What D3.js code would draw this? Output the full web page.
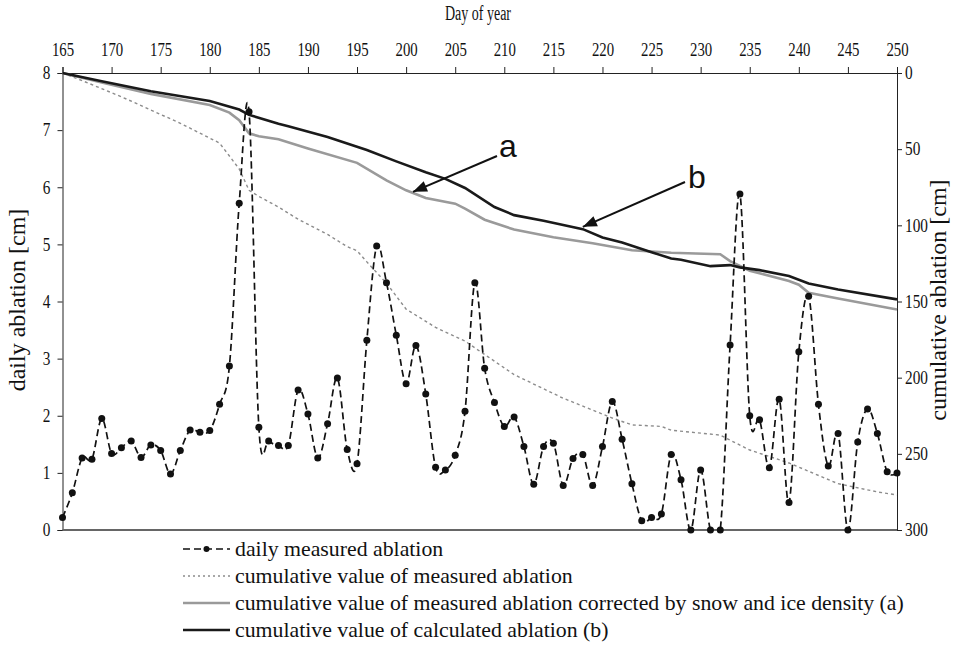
<!DOCTYPE html>
<html>
<head>
<meta charset="utf-8">
<script src="https://cdn.jsdelivr.net/npm/d3@7"></script>
<style>
  html, body { margin: 0; padding: 0; background: #fff; }
  svg { display: block; }
  svg text { font-family: "Liberation Serif", "DejaVu Serif", "Times New Roman", serif; }
  svg text.sans { font-family: "Liberation Sans", Arial, sans-serif; }
</style>
</head>
<body>
<svg id="chart" width="956" height="654"></svg>
<script>
// Day numbers of the daily measurements
const days = [165,166,167,168,169,170,171,172,173,174,175,176,177,178,179,180,181,182,183,184,
  185,186,187,188,189,190,191,192,193,194,195,196,197,198,199,200,201,202,203,204,
  205,206,207,208,209,210,211,212,213,214,215,216,217,218,219,220,221,222,223,224,
  225,226,227,228,229,230,231,232,233,234,235,236,237,238,239,240,241,242,243,244,
  245,246,247,248,249,250];

// Daily measured ablation [cm]
const dailyAblation = [0.22,0.65,1.26,1.24,1.95,1.34,1.44,1.56,1.27,1.49,1.39,0.98,1.39,1.75,1.71,1.74,2.20,2.87,5.72,7.32,
  1.80,1.56,1.48,1.48,2.45,2.03,1.26,1.86,2.66,1.41,1.16,3.32,4.97,4.33,3.41,2.56,3.23,2.38,1.10,1.05,
  1.31,2.08,4.33,2.83,2.23,1.81,1.98,1.46,0.80,1.46,1.52,0.78,1.25,1.32,0.78,1.46,2.25,1.59,0.81,0.16,
  0.22,0.28,1.32,0.88,0.00,1.05,0.00,0.00,3.24,5.88,2.00,1.93,1.09,2.29,0.48,3.12,4.09,2.20,1.12,1.69,
  0.00,1.54,2.12,1.69,1.02,1.00];

// Cumulative value of measured ablation [cm]
const cumMeasuredDays   = [165,167,171,177,181,183,184,185,187,189,192,194,195,196,198,200,203,206,211,216,221,223,226,227,232,233,235,239,244,248,250];
const cumMeasuredValues = [0,5,15.6,33,46,63,77,81,88,96,106,114,116.7,124,138,155,167,176,198,213.5,226.5,231,232,234.5,237.7,241,247.5,256,269.6,275,277];

// Cumulative measured ablation corrected by snow and ice density (a) [cm]
const cumCorrectedDays   = [165,169,174,180,182,183,184,185,187,190,195,198,200,202,205,206,208,211,215,219,223,227,232,233,235,239,240,241,244,250];
const cumCorrectedValues = [0,6.3,13.7,21,26,31,39.6,41.5,43.5,49.5,59,70.5,77,82,85.8,89,96.3,102.8,107.8,111.8,116.4,118,119,123.5,129.8,136.5,139,144.3,148,155.2];

// Cumulative calculated ablation (b) [cm]
const cumCalculatedDays   = [165,169,174,180,183,184,187,188,192,196,199,202,204,206,209,211,214,218,220,222,225,227,228,231,233,234,236,239,241,244,250];
const cumCalculatedValues = [0,5.4,12,18.4,24,27.5,33.3,35,42,50.6,58,65.2,69.5,75.5,88,93.3,97,102.5,108,111.3,117.6,121.8,122.6,126.8,126.1,127.6,129.4,133.3,138.2,142.1,148.6];

// Axis ticks
const dayTicks = [165,170,175,180,185,190,195,200,205,210,215,220,225,230,235,240,245,250];
const dailyTicks = [0,1,2,3,4,5,6,7,8];
const cumTicks = [0,50,100,150,200,250,300];

const legendLabels = [
  "daily measured ablation",
  "cumulative value of measured ablation",
  "cumulative value of measured ablation corrected by snow and ice density (a)",
  "cumulative value of calculated ablation (b)"
];

(function draw() {
  const svg = d3.select("#chart");
  const pl = 62.5, pr = 897, pt = 73, pb = 530;
  const serif = "Liberation Serif, DejaVu Serif, serif";

  // narrow a text run horizontally, keeping its glyph height
  function condense(sel, factor) {
    sel.each(function () {
      const w = this.getComputedTextLength();
      d3.select(this).attr("textLength", w * factor).attr("lengthAdjust", "spacingAndGlyphs");
    });
  }

  const x = d3.scaleLinear().domain([165, 250]).range([pl, pr]);
  const yL = d3.scaleLinear().domain([0, 8]).range([pb, pt]);
  const yR = d3.scaleLinear().domain([0, 300]).range([pt, pb]);

  // clip region for the smoothed daily curve
  svg.append("defs").append("clipPath").attr("id", "plotClip")
    .append("rect").attr("x", pl).attr("y", pt).attr("width", pr - pl).attr("height", pb - pt);

  // Axes
  const axTop = svg.append("g").attr("transform", `translate(0,${pt})`)
    .call(d3.axisTop(x).tickValues(dayTicks).tickSize(6).tickPadding(11).tickFormat(d3.format("d")));
  const axLeft = svg.append("g").attr("transform", `translate(${pl},0)`)
    .call(d3.axisLeft(yL).tickValues(dailyTicks).tickSize(5).tickPadding(7).tickFormat(d3.format("d")));
  const axRight = svg.append("g").attr("transform", `translate(${pr},0)`)
    .call(d3.axisRight(yR).tickValues(cumTicks).tickSize(5).tickPadding(3).tickFormat(d3.format("d")));

  [axTop, axLeft, axRight].forEach(g => {
    g.attr("font-family", serif);
    g.selectAll("text").attr("font-family", serif).attr("font-size", 18).attr("fill", "#111");
    g.selectAll("path, line").attr("stroke", "#222").attr("stroke-width", 1);
  });
  condense(axTop.selectAll("text"), 0.82);
  condense(axLeft.selectAll("text"), 0.85);
  condense(axRight.selectAll("text"), 0.85);

  // bottom frame line
  svg.append("line").attr("x1", pl).attr("x2", pr).attr("y1", pb).attr("y2", pb)
    .attr("stroke", "#666").attr("stroke-width", 2.2);

  // Axis titles
  const title = svg.append("text").attr("x", 478).attr("y", 20).attr("text-anchor", "middle")
    .attr("font-family", serif).attr("font-size", 20).attr("fill", "#111").text("Day of year");
  condense(title, 0.7);
  svg.append("text").attr("transform", "translate(25,300) rotate(-90)").attr("text-anchor", "middle")
    .attr("font-family", serif).attr("font-size", 24).attr("fill", "#111").text("daily ablation [cm]");
  svg.append("text").attr("transform", "translate(946,300) rotate(-90)").attr("text-anchor", "middle")
    .attr("font-family", serif).attr("font-size", 24).attr("fill", "#111").text("cumulative ablation [cm]");

  // Cumulative lines
  const cumLine = d3.line().x(d => x(d[0])).y(d => yR(d[1]));
  const series = [
    { days: cumMeasuredDays, vals: cumMeasuredValues, color: "#8c8c8c", width: 1.4, dash: "3,3" },
    { days: cumCorrectedDays, vals: cumCorrectedValues, color: "#9a9a9a", width: 2.6, dash: null },
    { days: cumCalculatedDays, vals: cumCalculatedValues, color: "#1a1a1a", width: 2.6, dash: null }
  ];
  series.forEach(s => {
    svg.append("path").datum(d3.zip(s.days, s.vals))
      .attr("d", cumLine).attr("fill", "none")
      .attr("stroke", s.color).attr("stroke-width", s.width)
      .attr("stroke-dasharray", s.dash);
  });

  // Daily measured ablation: smoothed dashed curve with markers
  const dailyPts = d3.zip(days, dailyAblation);
  svg.append("path").datum(dailyPts)
    .attr("clip-path", "url(#plotClip)")
    .attr("d", d3.line().x(d => x(d[0])).y(d => yL(d[1])).curve(d3.curveCardinal.tension(0)))
    .attr("fill", "none").attr("stroke", "#111").attr("stroke-width", 1.7).attr("stroke-dasharray", "7,4");
  svg.append("g").selectAll("circle").data(dailyPts).join("circle")
    .attr("cx", d => x(d[0])).attr("cy", d => yL(d[1])).attr("r", 3.5).attr("fill", "#111");

  // Annotation arrows a and b
  function arrow(x1, y1, x2, y2) {
    svg.append("line").attr("x1", x1).attr("y1", y1).attr("x2", x2).attr("y2", y2)
      .attr("stroke", "#111").attr("stroke-width", 2);
    const ang = Math.atan2(y2 - y1, x2 - x1), len = 14, half = 5.5;
    const bx = x2 - len * Math.cos(ang), by = y2 - len * Math.sin(ang);
    const px = -Math.sin(ang) * half, py = Math.cos(ang) * half;
    svg.append("path")
      .attr("d", `M${x2},${y2}L${bx + px},${by + py}L${bx - px},${by - py}Z`)
      .attr("fill", "#111");
  }
  arrow(497, 156, x(200.7), yR(78));
  arrow(685, 182, x(218), yR(101));
  svg.append("text").attr("class", "sans").attr("x", 499).attr("y", 157)
    .attr("font-size", 32).attr("fill", "#111").text("a");
  svg.append("text").attr("class", "sans").attr("x", 688).attr("y", 188)
    .attr("font-size", 32).attr("fill", "#111").text("b");

  // Legend
  const lg = svg.append("g");
  const rowY = [549, 576, 603, 630];
  const lx1 = 183, lx2 = 230;
  lg.append("line").attr("x1", lx1).attr("x2", lx2).attr("y1", rowY[0]).attr("y2", rowY[0])
    .attr("stroke", "#111").attr("stroke-width", 1.6).attr("stroke-dasharray", "7,4");
  lg.append("circle").attr("cx", (lx1 + lx2) / 2).attr("cy", rowY[0]).attr("r", 3).attr("fill", "#111");
  lg.append("line").attr("x1", lx1).attr("x2", lx2).attr("y1", rowY[1]).attr("y2", rowY[1])
    .attr("stroke", "#8c8c8c").attr("stroke-width", 1.4).attr("stroke-dasharray", "2,3");
  lg.append("line").attr("x1", lx1).attr("x2", lx2).attr("y1", rowY[2]).attr("y2", rowY[2])
    .attr("stroke", "#9a9a9a").attr("stroke-width", 2.6);
  lg.append("line").attr("x1", lx1).attr("x2", lx2).attr("y1", rowY[3]).attr("y2", rowY[3])
    .attr("stroke", "#1a1a1a").attr("stroke-width", 2.6);
  lg.selectAll("text").data(legendLabels).join("text")
    .attr("x", 235).attr("y", (d, i) => rowY[i] + 7)
    .attr("font-family", serif).attr("font-size", 21.8).attr("fill", "#111").text(d => d);
})();
</script>
</body>
</html>
